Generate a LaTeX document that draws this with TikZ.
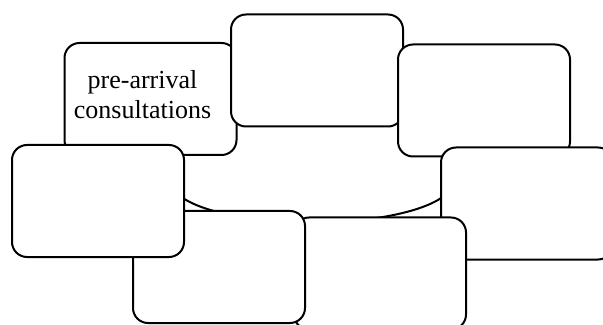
\documentclass[tikz,border=0pt]{standalone}
\usepackage{fontspec}
\setmainfont{Liberation Serif}
\usepackage{tikz}

\begin{document}
\begin{tikzpicture}[x=0.5pt,y=-0.5pt,
  stage/.style={draw, line width=1pt, rounded corners=7.5pt, fill=white,
    minimum width=86pt, minimum height=56pt, inner sep=0pt}]
\useasboundingbox (0,0) rectangle (603,325);

    % ring behind the stages
    \coordinate (hub) at (312,182.5);
    \draw[line width=1pt] (hub) ++(-140,0) arc[start angle=180, end angle=0, x radius=140, y radius=40];

    \node[stage] (s1) at (150.5,99) {};
    \node[stage] (s2) at (317,70.5) {};
    \node[stage] (s3) at (484,100.5) {};
    \node[stage] (s4) at (527,203.5) {};
    \node[stage] (s7) at (380,273.5) {};
    \node[stage] (s6) at (219,267) {};
    \node[stage] (s5) at (98,201) {};

    % label of the first stage
    \node[font=\fontsize{13}{15}\selectfont, align=center] (s1text)
      at ([xshift=-4pt,yshift=2pt]s1.center) {pre-arrival\\consultations};

\end{tikzpicture}
\end{document}
